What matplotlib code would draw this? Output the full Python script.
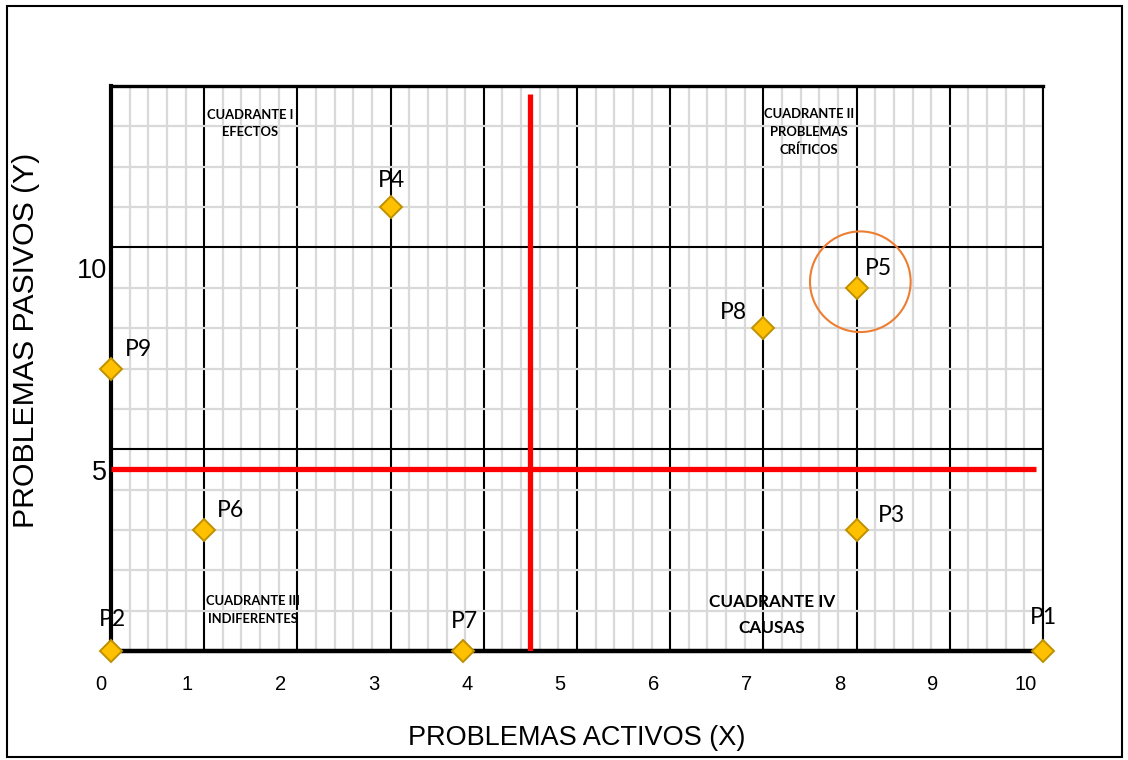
import matplotlib
matplotlib.use("Agg")
import matplotlib.pyplot as plt
import matplotlib.transforms as mtransforms
from matplotlib.patches import Rectangle

# ---------------- data ----------------
point_labels = ["P1", "P2", "P3", "P4", "P5", "P6", "P7", "P8", "P9"]
active_x = [10, 0, 8, 3, 8, 1, 3.78, 7, 0]
passive_y = [0, 0, 3, 11, 9, 3, 0, 8, 7]

x_tick_values = list(range(0, 11))
x_tick_labels = [str(v) for v in x_tick_values]
y_tick_values = [0, 5, 10]
y_tick_labels = ["", "5", "10"]

# quadrant dividers
divider_v_x = [4.5, 4.5]
divider_v_y = [0, 13.8]
divider_h_x = [0, 9.93]
divider_h_y = [4.5, 4.5]

# highlighted point (circle)
highlight_x = [8.04]
highlight_y = [9.15]

quadrant_texts = ["CUADRANTE I\nEFECTOS",
                  "CUADRANTE II\nPROBLEMAS\nCRÍTICOS",
                  "CUADRANTE III\nINDIFERENTES",
                  "CUADRANTE IV\nCAUSAS"]
quadrant_pos = [(1.49, 13.08), (7.49, 12.86), (1.52, 1.02), (7.09, 0.89)]

x_title = "PROBLEMAS ACTIVOS (X)"
y_title = "PROBLEMAS PASIVOS (Y)"

# ---------------- figure ----------------
W, H = 1128, 760
fig = plt.figure(figsize=(W / 100, H / 100), dpi=100)
fig.patch.set_facecolor("white")

ax = fig.add_axes([111 / W, 1 - 651 / H, 932 / W, 565 / H])
ax.set_xlim(0, 10)
ax.set_ylim(0, 14)

# grid
ax.set_xticks(x_tick_values)
ax.set_xticks([i * 0.2 for i in range(51)], minor=True)
ax.set_yticks(y_tick_values)
ax.set_yticks(list(range(0, 15)), minor=True)
ax.grid(which="minor", color="#D9D9D9", lw=1.6, zorder=0)
ax.grid(which="major", color="black", lw=1.5, zorder=1)
ax.set_axisbelow(True)

ax.tick_params(which="both", length=0)
ax.set_xticklabels(x_tick_labels, fontsize=14.5, family="Liberation Sans")
ax.set_yticklabels(y_tick_labels, fontsize=19.5, family="Liberation Sans")
ax.tick_params(axis="x", pad=17)
ax.tick_params(axis="y", pad=3)

for i, lab in enumerate(ax.get_xticklabels()):
    dx = -10 if i == 0 else -17
    lab.set_transform(lab.get_transform() + mtransforms.Affine2D().translate(dx, 0))
for lab in ax.get_yticklabels():
    lab.set_transform(lab.get_transform() + mtransforms.Affine2D().translate(0, -21))

for side in ["left", "bottom", "top", "right"]:
    ax.spines[side].set_color("black")
ax.spines["left"].set_linewidth(3.0)
ax.spines["bottom"].set_linewidth(3.2)
ax.spines["top"].set_linewidth(2.4)
ax.spines["right"].set_linewidth(1.5)

# quadrant divider lines
ax.plot(divider_v_x, divider_v_y, color="#FF0000", lw=3.8, zorder=3, solid_capstyle="butt")
ax.plot(divider_h_x, divider_h_y, color="#FF0000", lw=3.8, zorder=3, solid_capstyle="butt")

# points
ax.plot(active_x, passive_y, linestyle="none", marker="D", ms=11, mfc="#FFC000",
        mec="#BF9000", mew=1.4, zorder=5, clip_on=False)

# highlight circle
ax.scatter(highlight_x, highlight_y, s=5250, facecolors="none", edgecolors="#ED7D31",
           linewidths=1.5, zorder=4, clip_on=False)

label_offsets = [(0, 34), (1, 31), (35, 14), (1, 27), (22, 19), (26, 19), (1, 29), (-30, 16), (27, 19)]
for name, xv, yv, off in zip(point_labels, active_x, passive_y, label_offsets):
    ax.annotate(name, (xv, yv), xytext=off, textcoords="offset pixels",
                ha="center", va="center", fontsize=16.5, family="Lato",
                color="black", zorder=6, annotation_clip=False)

# quadrant texts
q_sizes = [9.4, 9.4, 9.4, 12.3]
q_spacing = [1.5, 1.6, 1.55, 1.75]
for txt, (qx, qy), fs, ls in zip(quadrant_texts, quadrant_pos, q_sizes, q_spacing):
    ax.text(qx, qy, txt, ha="center", va="center", multialignment="center",
            fontsize=fs, family="Lato", fontweight="bold", linespacing=ls, zorder=6)

# axis titles
fig.text(577 / W, 1 - 738 / H, x_title, ha="center", va="center",
         fontsize=19.5, family="Liberation Sans")
fig.text(26 / W, 1 - 340 / H, y_title, ha="center", va="center", rotation=90,
         fontsize=21.8, family="Liberation Sans")

# outer border
fig.patches.append(Rectangle((7 / W, 1 - 757 / H), (1122 - 7) / W, (757 - 6) / H,
                             transform=fig.transFigure, fill=False,
                             edgecolor="black", lw=1.5))

fig.savefig("out.png", dpi=100, facecolor="white")
